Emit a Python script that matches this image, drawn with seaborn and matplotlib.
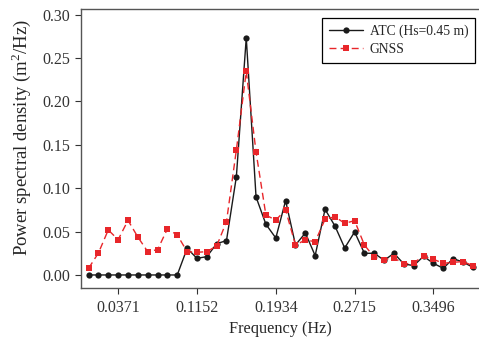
"""PSD comparison: ATC vs GNSS wave spectrum (Times-like paper style)."""

import matplotlib as mpl
import matplotlib.pyplot as plt
import pandas as pd
import seaborn as sns

sns.set_theme(style="ticks")
mpl.rcParams.update(
    {
        "font.family": ["Liberation Serif", "DejaVu Serif"],
        "mathtext.fontset": "custom",
        "mathtext.rm": "Liberation Serif",
        "axes.linewidth": 1.0,
        "axes.edgecolor": "#555555",
        "xtick.color": "#333333",
        "ytick.color": "#333333",
    }
)

RED = "#e8262a"
BLACK = "#1a1a1a"

freq = [
    0.0078, 0.0176, 0.0273, 0.0371, 0.0469, 0.0566, 0.0664, 0.0762, 0.0859, 0.0957,
    0.1055, 0.1152, 0.1250, 0.1348, 0.1445, 0.1543, 0.1641, 0.1738, 0.1836, 0.1934,
    0.2031, 0.2129, 0.2227, 0.2324, 0.2422, 0.2520, 0.2617, 0.2715, 0.2812, 0.2910,
    0.3008, 0.3105, 0.3203, 0.3301, 0.3398, 0.3496, 0.3594, 0.3691, 0.3789, 0.3887,
]
atc = [
    0.0, 0.0, 0.0, 0.0, 0.0, 0.0, 0.0, 0.0, 0.0, 0.0,
    0.0307, 0.0192, 0.0211, 0.0361, 0.0396, 0.1133, 0.2735, 0.0899, 0.0584, 0.0426,
    0.0857, 0.0346, 0.0484, 0.0223, 0.0757, 0.0565, 0.0311, 0.0496, 0.0250, 0.0250,
    0.0169, 0.0250, 0.0127, 0.0108, 0.0215, 0.0134, 0.0077, 0.0188, 0.0150, 0.0088,
]
gnss = [
    0.0077, 0.0254, 0.0519, 0.0407, 0.0630, 0.0438, 0.0269, 0.0292, 0.0530, 0.0461,
    0.0269, 0.0261, 0.0269, 0.0334, 0.0615, 0.1441, 0.2347, 0.1418, 0.0688, 0.0634,
    0.0749, 0.0346, 0.0403, 0.0384, 0.0641, 0.0672, 0.0595, 0.0626, 0.0346, 0.0204,
    0.0177, 0.0200, 0.0123, 0.0142, 0.0215, 0.0181, 0.0134, 0.0146, 0.0154, 0.0108,
]
xticks = [0.0371, 0.1152, 0.1934, 0.2715, 0.3496]
yticks = [0.00, 0.05, 0.10, 0.15, 0.20, 0.25, 0.30]

df = pd.DataFrame({"f": freq, "ATC (Hs=0.45 m)": atc, "GNSS": gnss}).melt(
    id_vars="f", var_name="src", value_name="psd"
)

fig = plt.figure(figsize=(4.79, 3.40), dpi=100)
ax = fig.add_axes([0.1685, 0.153, 0.834, 0.8205])

sns.lineplot(
    data=df,
    x="f",
    y="psd",
    hue="src",
    style="src",
    markers={"ATC (Hs=0.45 m)": "o", "GNSS": "s"},
    dashes={"ATC (Hs=0.45 m)": "", "GNSS": (5, 3)},
    palette={"ATC (Hs=0.45 m)": BLACK, "GNSS": RED},
    markersize=4.5,
    markeredgewidth=0,
    linewidth=1.0,
    ax=ax,
)

ax.set_xlim(0.0, 0.396)
ax.set_ylim(-0.015, 0.3066)
ax.set_xticks(xticks)
ax.set_xticklabels([f"{v:.4f}" for v in xticks])
ax.set_yticks(yticks)
ax.set_yticklabels([f"{v:.2f}" for v in yticks])
ax.tick_params(labelsize=11.5, length=4, width=0.8, direction="out")
ax.tick_params(axis="x", pad=5)
ax.set_xlabel("Frequency (Hz)", fontsize=11.7, labelpad=3)
ax.set_ylabel(r"Power spectral density (m$^2$/Hz)", fontsize=13.5)
ax.yaxis.set_label_coords(-0.12, 0.538)

leg = ax.legend(
    loc="upper right",
    bbox_to_anchor=(0.987, 0.968),
    borderaxespad=0,
    fontsize=9.8,
    frameon=True,
    fancybox=False,
    edgecolor="black",
    framealpha=1,
    handlelength=2.5,
    handletextpad=0.5,
    borderpad=0.5,
    labelspacing=0.35,
)
leg.get_frame().set_linewidth(0.9)

fig.savefig("out.png", dpi=100)
